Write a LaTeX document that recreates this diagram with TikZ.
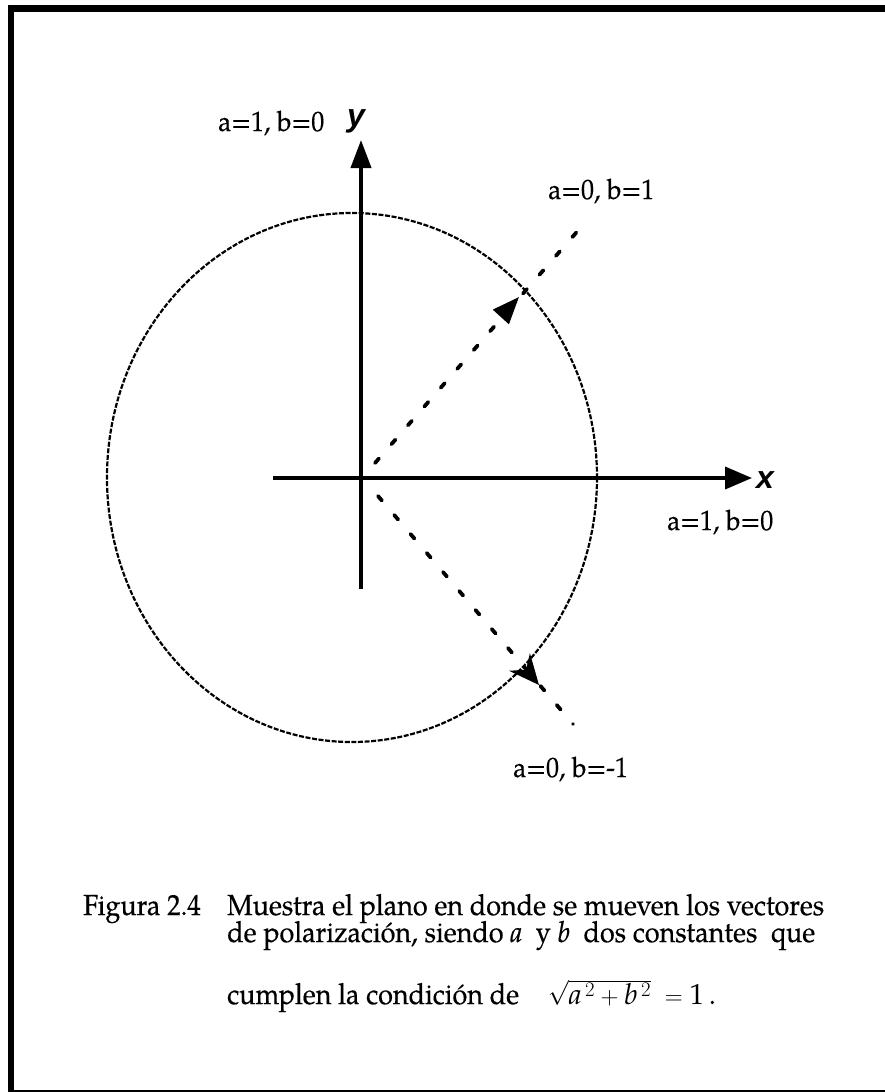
\documentclass[tikz,border=0pt]{standalone}
\usepackage{fontspec}
\setmainfont{TeX Gyre Pagella}
\newfontfamily\labfont{TeX Gyre Pagella}[FakeStretch=0.93,FakeBold=0.3]
\newfontfamily\capfont{TeX Gyre Pagella}[FakeStretch=0.93,FakeBold=0.4]
\newfontfamily\axfont{Liberation Sans}
\usetikzlibrary{arrows.meta}
\begin{document}
\begin{tikzpicture}[x=1pt,y=-1pt,
  frame/.style={line width=6.5pt},
  circ/.style={line width=2.2pt, dash pattern=on 5pt off 1.6pt},
  axis/.style={line width=3.8pt},
  vec/.style={line width=3.8pt, line cap=round, dash pattern=on 6pt off 19pt},
  lab/.style={inner sep=0pt, anchor=base west, font=\labfont\fontsize{28}{32}\selectfont},
  axlab/.style={inner sep=0pt, anchor=base west, font=\axfont\bfseries\itshape\fontsize{32}{36}\selectfont},
  captext/.style={inner sep=0pt, anchor=base west, font=\capfont\fontsize{29}{34}\selectfont}]
\useasboundingbox (0,0) rectangle (885,1092);
% frame
\coordinate (fbl) at (11,1092);
\coordinate (ftl) at (11,8.5);
\coordinate (ftr) at (885,8.5);
\coordinate (bl) at (8,1091);
\coordinate (br) at (885,1091);
\draw[frame] (fbl) -- (ftl) -- (ftr);
\draw[line width=2pt] (bl) -- (br);
% circle
\coordinate (C) at (352,477.5);
\draw[circ] (C) ellipse [x radius=245, y radius=264.5];
% axes
\coordinate (O) at (361,478);
\coordinate (ytop) at (361,140);
\coordinate (ybot) at (361,589);
\coordinate (xl) at (273,478);
\coordinate (xr) at (752,478);
\draw[axis, -{Triangle[length=28pt,width=20pt]}] (ybot) -- (ytop);
\draw[axis, -{Triangle[length=27pt,width=22pt]}] (xl) -- (xr);
% vectors
\coordinate (v1s) at (375,463);
\coordinate (v1b) at (509,308);
\coordinate (v1tip) at (519,297);
\coordinate (v1end) at (582,226);
\draw[vec] (v1s) -- (v1end);
\draw[line width=3pt, -{Triangle[length=27pt,width=21pt]}] (v1b) -- (v1tip);
\coordinate (v2s) at (378,496);
\coordinate (v2b) at (528,672);
\coordinate (v2tip) at (539,685);
\coordinate (v2end) at (573,724);
\draw[vec] (v2s) -- (v2end);
\draw[line width=3pt, -{Stealth[length=30pt,width=27pt,inset=10pt]}] (v2b) -- (v2tip);
% labels
\node[lab] (l1) at (218,131) {a=1, b=0};
\node[axlab] (ylab) at (347,126) {y};
\node[lab] (l2) at (548,199) {a=0, b=1};
\node[axlab] (xlab) at (756,488) {x};
\node[lab] (l3) at (667,530) {a=1, b=0};
\node[lab] (l4) at (513,777) {a=0, b=-1};
% caption
\node[captext] (fig) at (83,915) {Figura 2.4};
\node[captext] (c1) at (227,915) {Muestra el plano en donde se mueven los vectores};
\node[captext] (c2) at (227,942) {de polarización, siendo \textit{a}\ \ y \textit{b}\ \ dos constantes\ \ que};
\node[captext] (c3) at (227,1004) {cumplen la condición de\quad $\sqrt{\mathit{a}^{\,2}+\mathit{b}^{\,2}}\;=\mathrm{1}$\,.};
\end{tikzpicture}
\end{document}
